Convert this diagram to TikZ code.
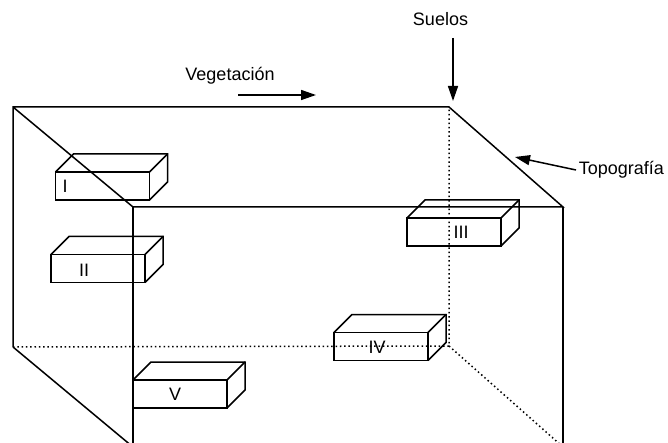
\documentclass[tikz,border=0pt]{standalone}
\usepackage{fontspec}
\setmainfont{Liberation Sans}
\usetikzlibrary{arrows.meta}
\usetikzlibrary{calc}
\usetikzlibrary{positioning}

\begin{document}
\begin{tikzpicture}[x=1pt,y=-1pt,line width=1.5pt,font=\fontsize{18}{21}\selectfont]
 				 \tikzstyle{brick}=[draw, rectangle, minimum width=94pt, minimum height=28pt, inner sep=0pt, outer sep=0pt]
 				 \tikzstyle{hidden}=[dash pattern=on 1.5pt off 2.8pt]
 				 \tikzstyle{arr}=[-{Triangle[length=15pt,width=10pt]}]
 				 \tikzstyle{lbl}=[inner sep=2pt]
 					 \useasboundingbox (0,0) rectangle (668,443);
 					 \clip (0,0) rectangle (668,443);
 					 % corners of the block
 					 \coordinate (A) at (13,107);
 					 \coordinate (B) at (449,107);
 					 \coordinate (C) at (133,207);
 					 \coordinate (D) at (563,207);
 					 \coordinate (E) at (13,347);
 					 \coordinate (F) at (449,346);
 					 \coordinate (G) at (133,447);
 					 \coordinate (H) at (563,447);
 					 \draw (E) -- (A) -- (B) -- (D) -- (C) -- (A);
 					 \draw (E) -- (G);
 					 \draw (C) -- (G);
 					 \draw (D) -- (H);
 					 \draw[hidden] (E) -- (F) -- (B);
 					 \draw[hidden] (F) -- (H);
 					 % bricks
 					 \node[brick] (I)   at (102.5,186) {};
 					 \node[brick] (II)  at (98,268.5) {};
 					 \node[brick] (III) at (454,232) {};
 					 \node[brick] (IV)  at (381,346.5) {};
 					 \node[brick] (V)   at (180,394) {};
 					 \foreach \b in {I,II,III,IV,V}{
 					   \draw (\b.north west) -- ++(18,-18) -- ++(94,0) -- ++(0,28) -- (\b.south east);
 					   \draw (\b.north east) -- ++(18,-18);
 					 }
 					 \node (tI)   at (65,186) {I};
 					 \node (tII)  at (84,270) {II};
 					 \node (tIII) at (461,232) {III};
 					 \node (tIV)  at (377,347) {IV};
 					 \node (tV)   at (175,394) {V};
 					 % labels
 					 \node[lbl] (suelos) at (440.5,19) {Suelos};
 					 \node[lbl] (veg)    at (230,76) {Vegetación};
 					 \node[lbl, anchor=west] (topo) at (576,170) {Topografía};
 					 \coordinate (sTop) at (453,38);
 					 \coordinate (sTip) at (453,101);
 					 \coordinate (vTail) at (238,95);
 					 \coordinate (vTip) at (316,95);
 					 \coordinate (tTip) at (515,157);
 					 \draw[arr] (sTop) -- (sTip);
 					 \draw[arr] (vTail) -- (vTip);
 					 \draw[arr] (topo.west) -- (tTip);
				\end{tikzpicture}
\end{document}
